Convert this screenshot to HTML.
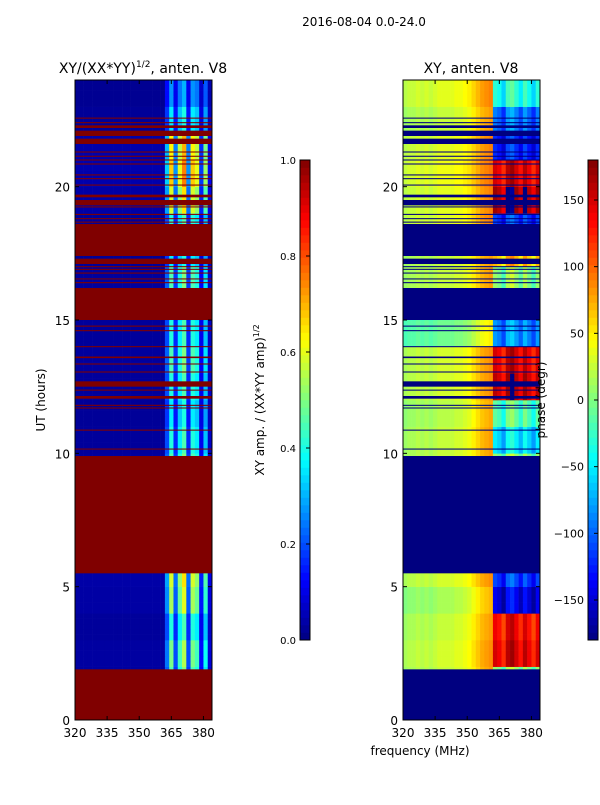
<!DOCTYPE html>
<html><head><meta charset="utf-8">
<style>
body{margin:0;background:#fff;}
svg text{font-family:"DejaVu Sans","Liberation Sans",sans-serif;fill:#000;}
</style></head>
<body>
<svg id="fig" width="600" height="800" viewBox="0 0 600 800" xmlns="http://www.w3.org/2000/svg">
<text x="364" y="26" font-size="12" text-anchor="middle">2016-08-04 0.0-24.0</text>
<text x="143" y="73" font-size="14" text-anchor="middle">XY/(XX*YY)<tspan font-size="9" dy="-6">1/2</tspan><tspan dy="6">, anten. V8</tspan></text>
<text x="471" y="73" font-size="14" text-anchor="middle">XY, anten. V8</text>
<g id="left"></g>
<g id="right"></g>
<g id="axes"></g>
<text transform="translate(45,400) rotate(-90)" font-size="12" text-anchor="middle">UT (hours)</text>
<text transform="translate(264,400) rotate(-90)" font-size="12" text-anchor="middle">XY amp. / (XX*YY amp)<tspan font-size="8" dy="-5">1/2</tspan></text>
<text transform="translate(545,400) rotate(-90)" font-size="12" text-anchor="middle">phase (degr)</text>
<text x="420" y="755" font-size="12" text-anchor="middle">frequency (MHz)</text>
</svg>
<script>
// ---- data ----
const freqStart = 320, freqEnd = 384, freqStep = 2;
const timeStep = 0.2;
const flagged = [[0,1.9],[5.5,9.9],[10.14,10.18],[10.85,10.89],[11.68,11.72],[11.78,11.82],[12.05,12.15],[12.35,12.39],[12.5,12.7],[13.03,13.07],[13.33,13.37],[13.57,13.63],[13.98,14.02],[14.58,14.62],[14.75,14.79],[15.0,16.2],[16.38,16.42],[16.52,16.56],[16.74,16.78],[16.88,16.92],[16.98,17.02],[17.1,17.3],[17.4,18.6],[18.65,18.69],[18.78,18.82],[18.94,18.98],[19.22,19.26],[19.3,19.5],[19.6,19.7],[20.04,20.08],[20.28,20.32],[20.42,20.46],[20.83,20.87],[20.98,21.02],[21.12,21.16],[21.28,21.32],[21.6,21.8],[21.9,22.1],[22.2,22.3],[22.38,22.42],[22.55,22.59]];
const ampCols = [0.03,0.03,0.03,0.03,0.03,0.03,0.03,0.03,0.03,0.03,0.03,0.03,0.03,0.03,0.03,0.03,0.03,0.03,0.03,0.03,0.03,0.22,0.45,0.18,0.4,0.5,0.18,0.45,0.4,0.12,0.35,0.08];
const hourGain = [1,1,1.1,0.9,1.2,1.3,1,1,1,1,0.9,0.8,0.9,1,0.9,0.8,1,0.8,0.9,1.3,1.5,1.4,0.8,0.6];
const phaseLoCols = [10,15,15,20,15,20,15,20,25,25,25,25,30,30,35,40,50,60,70,75,80,0,0,0,0,0,0,0,0,0,0,0];
const phaseHiCols = [0,0,0,0,0,0,0,0,0,0,0,0,0,0,0,0,0,0,0,0,0,10,0,-20,20,30,10,-10,20,0,-20,10];
const hourLoPhase = [0,0,5,0,-10,5,0,0,0,0,0,-5,5,5,-30,-40,0,0,10,10,15,10,0,10];
const hourHiPhase = [0,0,140,130,-150,-120,0,0,0,0,-60,-20,150,140,-90,-110,0,60,-120,160,140,-130,-100,-40];
// ---- helpers ----
function jet(v){v=Math.max(0,Math.min(1,v));
 const r=Math.max(0,Math.min(1,1.5-Math.abs(4*v-3))),g=Math.max(0,Math.min(1,1.5-Math.abs(4*v-2))),b=Math.max(0,Math.min(1,1.5-Math.abs(4*v-1)));
 return `rgb(${Math.round(r*255)},${Math.round(g*255)},${Math.round(b*255)})`;}
const NS='http://www.w3.org/2000/svg';
function mk(tag,attrs,parent){const e=document.createElementNS(NS,tag);for(const k in attrs)e.setAttribute(k,attrs[k]);parent.appendChild(e);return e;}
const y0=80,y1=720;
function yScale(h){return y1-(h/24)*(y1-y0);}
function xScaleL(f){return 75+(f-freqStart)/(freqEnd-freqStart)*137;}
function xScaleR(f){return 403+(f-freqStart)/(freqEnd-freqStart)*137;}
const L=document.getElementById('left'),R=document.getElementById('right');
const nRows=Math.round(24/timeStep), nCols=ampCols.length;
for(let i=0;i<nRows;i++){
 const t=i*timeStep+timeStep/2, h=Math.floor(t);
 const ya=yScale((i+1)*timeStep), hh=yScale(i*timeStep)-ya;
 for(let j=0;j<nCols;j++){
  const f=freqStart+j*freqStep;
  const amp=ampCols[j]*hourGain[h];
  const c=mk('rect',{x:xScaleL(f),y:ya,width:xScaleL(f+freqStep)-xScaleL(f)+0.3,height:hh+0.3,fill:jet(amp)},L);
  
  
  let ph = j<21 ? phaseLoCols[j]+hourLoPhase[h] : phaseHiCols[j]+hourHiPhase[h];
  ph=((ph+180)%360+360)%360-180;
  const d=mk('rect',{x:xScaleR(f),y:ya,width:xScaleR(f+freqStep)-xScaleR(f)+0.3,height:hh+0.3,fill:jet((ph+180)/360)},R);
  
  
 }
}
flagged.forEach(([a,b])=>{
 const ya=yScale(b), hh=yScale(a)-ya;
 const p=mk('rect',{x:75,y:ya,width:137,height:hh,fill:jet(1)},L);
 
 
 const q=mk('rect',{x:403,y:ya,width:137,height:hh,fill:jet(0)},R);
 
 
});
// axes
const A=document.getElementById('axes');
const yTicks=[0,5,10,15,20], xTicks=[320,335,350,365,380];
[[75,xScaleL],[403,xScaleR]].forEach(([x0,xs],k)=>{
 const fr=mk('rect',{x:x0,y:y0,width:137,height:y1-y0,fill:'none',stroke:'#000','stroke-width':1},A);
 
 
 yTicks.forEach(v=>{const y=yScale(v);
  mk('line',{x1:x0,x2:x0+4,y1:y,y2:y,stroke:'#000'},A);mk('line',{x1:x0+133,x2:x0+137,y1:y,y2:y,stroke:'#000'},A);
  const t=mk('text',{x:x0-5,y:y+5,'font-size':12,'text-anchor':'end'},A);t.textContent=v;
  
  });
 xTicks.forEach(v=>{const x=xs(v);
  mk('line',{x1:x,x2:x,y1:y1,y2:y1-4,stroke:'#000'},A);mk('line',{x1:x,x2:x,y1:y0,y2:y0+4,stroke:'#000'},A);
  const t=mk('text',{x:x,y:y1+17,'font-size':12,'text-anchor':'middle'},A);t.textContent=v;
  
  });
});
// colorbars
const cbTop=160,cbBot=640;
function colorbar(x,min,max,ticks,name){
 const g=mk('g',{},A);
 
 
 const n=64;for(let i=0;i<n;i++){const y=cbBot-(i+1)*(cbBot-cbTop)/n;
  mk('rect',{x:x,y:y,width:10,height:(cbBot-cbTop)/n+0.3,fill:jet((i+0.5)/n)},g);}
 mk('rect',{x:x,y:cbTop,width:10,height:cbBot-cbTop,fill:'none',stroke:'#000'},g);
 ticks.forEach(v=>{const y=cbBot-(v-min)/(max-min)*(cbBot-cbTop);
  mk('line',{x1:x+6,x2:x+10,y1:y,y2:y,stroke:'#000'},g);
  const t=mk('text',{x:x-4,y:y+4,'font-size':max===1?10:11,'text-anchor':'end'},g);
  t.textContent=max===1?v.toFixed(1):(v<0?'\u2212'+(-v):v);
  
  });
}
colorbar(300,0,1,[0,0.2,0.4,0.6,0.8,1.0],'amp-colorbar');
colorbar(588,-180,180,[-150,-100,-50,0,50,100,150],'phase-colorbar');
</script>
</body></html>
